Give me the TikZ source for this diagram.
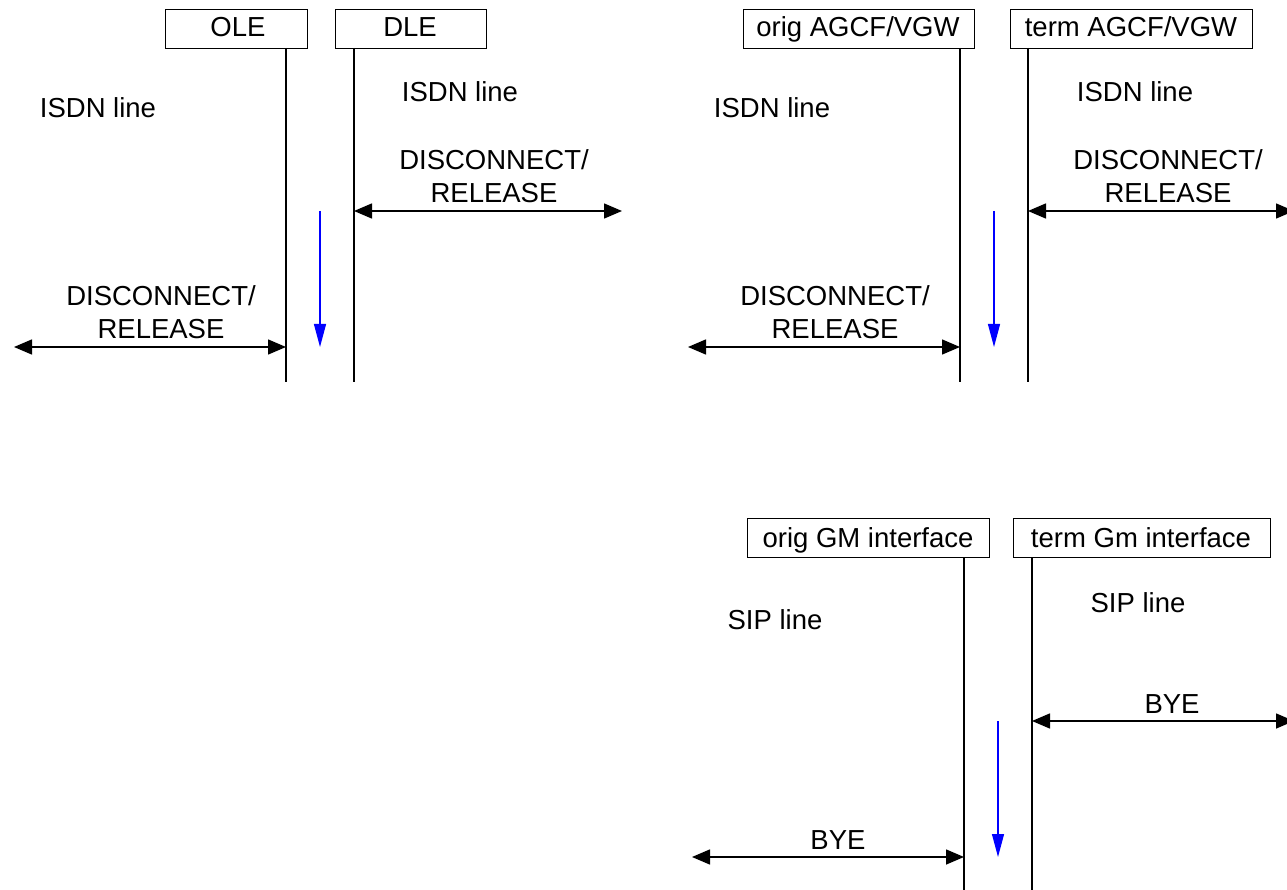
\documentclass[tikz,border=0pt]{standalone}
\usepackage{fontspec}
\setmainfont{Liberation Sans}
\usetikzlibrary{arrows.meta}
\begin{document}
\begin{tikzpicture}[x=1pt,y=-1pt,
  every node/.style={font=\fontsize{27.5}{33}\selectfont, inner sep=0pt},
  txt/.style={anchor=base},
  entity/.style={draw, line width=1pt, minimum height=39pt, anchor=north west},
  life/.style={line width=1.2pt},
  msg/.style={line width=1.5pt, {Triangle[length=18pt,width=15pt]}-{Triangle[length=18pt,width=15pt]}},
  flow/.style={blue, line width=1.2pt, -{Triangle[length=23pt,width=12pt]}}]
\useasboundingbox (0,0) rectangle (1287,890);

% ---------- top-left ----------
\node[entity, minimum width=142pt] (ole) at (165,9) {};
\node[txt] (oleL) at (238,37) {OLE};
\node[entity, minimum width=151pt] (dle) at (335,9) {};
\node[txt] (dleL) at (410,37) {DLE};
\coordinate (oleT) at (286,48); \coordinate (oleB) at (286,382);
\coordinate (dleT) at (354,48); \coordinate (dleB) at (354,382);
\draw[life] (oleT) -- (oleB);
\draw[life] (dleT) -- (dleB);
\node[txt] (isdnA) at (98,118) {ISDN line};
\node[txt] (isdnB) at (460,102) {ISDN line};
\node[txt] (dr1u) at (494,170) {DISCONNECT/};
\node[txt] (dr1l) at (494,203) {RELEASE};
\coordinate (dr1a) at (354,211); \coordinate (dr1b) at (622,211);
\draw[msg] (dr1a) -- (dr1b);
\coordinate (bl1a) at (320,211); \coordinate (bl1b) at (320,347);
\draw[flow] (bl1a) -- (bl1b);
\node[txt] (dr2u) at (161,306) {DISCONNECT/};
\node[txt] (dr2l) at (161,339) {RELEASE};
\coordinate (dr2a) at (14,347); \coordinate (dr2b) at (286,347);
\draw[msg] (dr2a) -- (dr2b);

% ---------- top-right ----------
\node[entity, minimum width=231pt] (oag) at (743,9) {};
\node[txt] (oagL) at (858,37) {orig AGCF/VGW};
\node[entity, minimum width=242pt] (tag) at (1010,9) {};
\node[txt] (tagL) at (1131,37) {term AGCF/VGW};
\coordinate (oagT) at (960,48); \coordinate (oagB) at (960,382);
\coordinate (tagT) at (1028,48); \coordinate (tagB) at (1028,382);
\draw[life] (oagT) -- (oagB);
\draw[life] (tagT) -- (tagB);
\node[txt] (isdnC) at (772,118) {ISDN line};
\node[txt] (isdnD) at (1135,102) {ISDN line};
\node[txt] (dr3u) at (1168,170) {DISCONNECT/};
\node[txt] (dr3l) at (1168,203) {RELEASE};
\coordinate (dr3a) at (1028,211); \coordinate (dr3b) at (1294,211);
\draw[msg] (dr3a) -- (dr3b);
\coordinate (bl2a) at (994,211); \coordinate (bl2b) at (994,347);
\draw[flow] (bl2a) -- (bl2b);
\node[txt] (dr4u) at (835,306) {DISCONNECT/};
\node[txt] (dr4l) at (835,339) {RELEASE};
\coordinate (dr4a) at (688,347); \coordinate (dr4b) at (960,347);
\draw[msg] (dr4a) -- (dr4b);

% ---------- bottom-right ----------
\node[entity, minimum width=242pt] (ogm) at (747,518) {};
\node[txt] (ogmL) at (868,547) {orig GM interface};
\node[entity, minimum width=257pt] (tgm) at (1013,518) {};
\node[txt] (tgmL) at (1141,547) {term Gm interface};
\coordinate (ogmT) at (964,557); \coordinate (ogmB) at (964,890);
\coordinate (tgmT) at (1032,557); \coordinate (tgmB) at (1032,890);
\draw[life] (ogmT) -- (ogmB);
\draw[life] (tgmT) -- (tgmB);
\node[txt] (sipA) at (775,629) {SIP line};
\node[txt] (sipB) at (1138,612) {SIP line};
\node[txt] (bye1) at (1172,713) {BYE};
\coordinate (by1a) at (1032,721); \coordinate (by1b) at (1294,721);
\draw[msg] (by1a) -- (by1b);
\coordinate (bl3a) at (998,721); \coordinate (bl3b) at (998,857);
\draw[flow] (bl3a) -- (bl3b);
\node[txt] (bye2) at (838,849) {BYE};
\coordinate (by2a) at (692,857); \coordinate (by2b) at (964,857);
\draw[msg] (by2a) -- (by2b);
\end{tikzpicture}
\end{document}
